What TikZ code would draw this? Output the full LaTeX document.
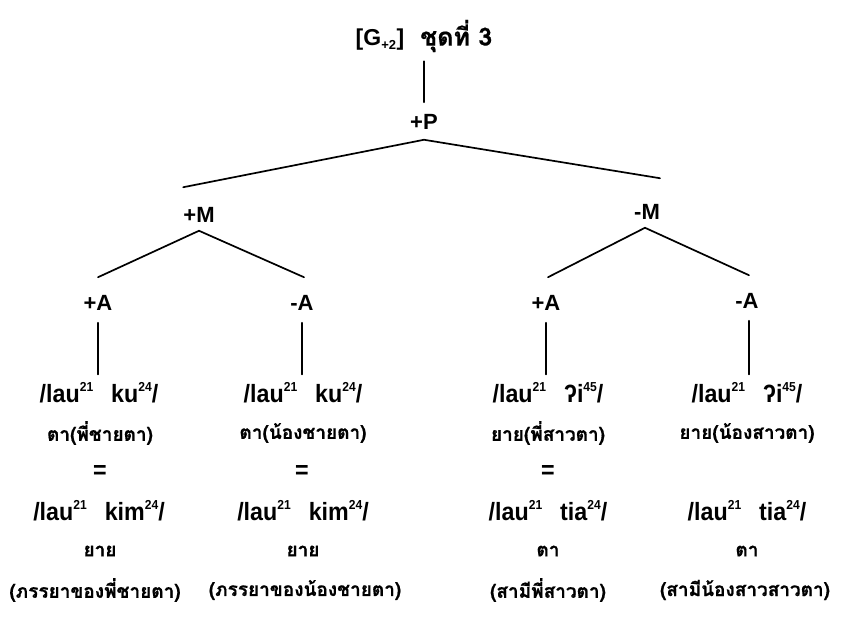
\documentclass[tikz,border=0pt]{standalone}
\usepackage{fontspec}
\setmainfont{Liberation Sans}
\newfontfamily\estrecha[FakeStretch=0.93]{Liberation Sans}
\newfontfamily\thaifont[Script=Thai,FakeBold=0.6]{Loma}
\usetikzlibrary{positioning,calc}
\newcommand{\tonema}[1]{\raisebox{0.85ex}{\fontsize{13}{13}\selectfont #1}}
\tikzset{
    titular/.style={
        font=\bfseries\fontsize{23}{27}\selectfont, % encabezado del árbol
        inner sep=2pt
    },
    rasgo/.style={
        font=\bfseries\fontsize{22}{26}\selectfont, % rasgos +P, +M, -A ...
        inner sep=2pt
    },
    fonema/.style={
        font=\estrecha\bfseries\fontsize{25}{29}\selectfont, % transcripción entre barras
        inner sep=2pt
    },
    glosa/.style={
        font=\thaifont\bfseries\fontsize{19}{22}\selectfont, % glosa en tailandés
        inner sep=2pt
    },
    rama/.style={
        line width=1.7pt,         % trazo de las ramas del árbol
        line cap=round
    }
}

\begin{document}
\begin{tikzpicture}[x=1pt,y=-1pt]
    \useasboundingbox (0,0) rectangle (852,620);

    % árbol de rasgos
    \node[titular] (titulo) at (424,36) {[G\textsubscript{\fontsize{13}{13}\selectfont+2}]\hspace{16pt}{\thaifont\fontsize{25}{28}\selectfont ชุดที่ 3}};
    \node[rasgo] (p) at (424,122) {+P};
    \node[rasgo] (mmas) at (199,215) {+M};
    \node[rasgo] (mmenos) at (647,212) {-M};
    \node[rasgo] (amas1) at (98,303) {+A};
    \node[rasgo] (amenos1) at (302,303) {-A};
    \node[rasgo] (amas2) at (546,303) {+A};
    \node[rasgo] (amenos2) at (747,301) {-A};

    % columna 1
    \node[fonema] (c1f1) at (99,393) {/lau\tonema{21}\hspace{18pt}ku\tonema{24}/};
    \node[glosa] (c1g1) at (100,433) {ตา(พี่ชายตา)};
    \node[fonema] (c1eq) at (100,472) {=};
    \node[fonema] (c1f2) at (99,511) {/lau\tonema{21}\hspace{18pt}kim\tonema{24}/};
    \node[glosa] (c1g2) at (100,551) {ยาย};
    \node[glosa] (c1g3) at (95,590) {(ภรรยาของพี่ชายตา)};

    % columna 2
    \node[fonema] (c2f1) at (303,393) {/lau\tonema{21}\hspace{18pt}ku\tonema{24}/};
    \node[glosa] (c2g1) at (303,433) {ตา(น้องชายตา)};
    \node[fonema] (c2eq) at (302,472) {=};
    \node[fonema] (c2f2) at (303,511) {/lau\tonema{21}\hspace{18pt}kim\tonema{24}/};
    \node[glosa] (c2g2) at (303,551) {ยาย};
    \node[glosa] (c2g3) at (305,590) {(ภรรยาของน้องชายตา)};

    % columna 3
    \node[fonema] (c3f1) at (548,393) {/lau\tonema{21}\hspace{18pt}ʔi\tonema{45}/};
    \node[glosa] (c3g1) at (548,433) {ยาย(พี่สาวตา)};
    \node[fonema] (c3eq) at (548,472) {=};
    \node[fonema] (c3f2) at (548,511) {/lau\tonema{21}\hspace{18pt}tia\tonema{24}/};
    \node[glosa] (c3g2) at (548,551) {ตา};
    \node[glosa] (c3g3) at (548,590) {(สามีพี่สาวตา)};

    % columna 4
    \node[fonema] (c4f1) at (747,393) {/lau\tonema{21}\hspace{18pt}ʔi\tonema{45}/};
    \node[glosa] (c4g1) at (747,433) {ยาย(น้องสาวตา)};
    \node[fonema] (c4f2) at (747,511) {/lau\tonema{21}\hspace{18pt}tia\tonema{24}/};
    \node[glosa] (c4g2) at (747,551) {ตา};
    \node[glosa] (c4g3) at (745,590) {(สามีน้องสาวสาวตา)};

    % ramas
    \draw[rama] ($(titulo.south)+(0,7)$) -- ($(p.north)+(0,-10)$);
    \draw[rama] ($(mmas.north west)+(2,-18)$) -- ($(p.south)+(0,8)$) -- ($(mmenos.north east)+(-2,-24)$);
    \draw[rama] ($(amas1.north)+(0,-16)$) -- ($(mmas.south)+(0,6)$) -- ($(amenos1.north)+(2,-16)$);
    \draw[rama] ($(amas2.north)+(2,-16)$) -- ($(mmenos.south)+(-2,6)$) -- ($(amenos2.north)+(2,-16)$);
    \draw[rama] ($(amas1.south)+(0,10)$) -- ($(amas1.south |- c1f1.north)+(0,-6)$);
    \draw[rama] ($(amenos1.south)+(0,10)$) -- ($(amenos1.south |- c2f1.north)+(0,-6)$);
    \draw[rama] ($(amas2.south)+(0,10)$) -- ($(amas2.south |- c3f1.north)+(0,-6)$);
    \draw[rama] ($(amenos2.south)+(2,10)$) -- ($(amenos2.south |- c4f1.north)+(2,-6)$);
\end{tikzpicture}
\end{document}
